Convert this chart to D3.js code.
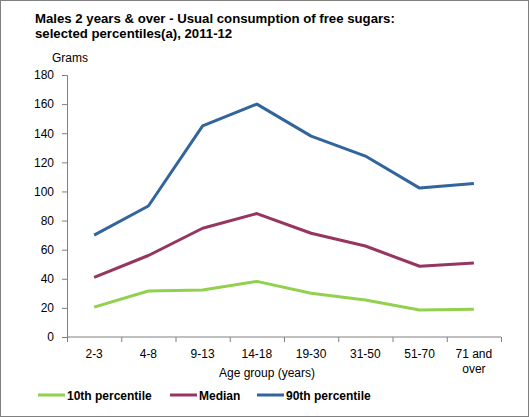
<!DOCTYPE html>
<html lang="en">
<head>
<meta charset="UTF-8">
<title>Free sugars percentiles</title>
<style>
  body { margin: 0; }
  svg { display: block; font-family: "Liberation Sans", Arial, sans-serif; }
</style>
</head>
<body>
<div id="chart"></div>
<script src="https://d3js.org/d3.v7.min.js"></script>
<script>
var ageGroups = ["2-3", "4-8", "9-13", "14-18", "19-30", "31-50", "51-70", "71 and over"];
var p10 = [20.5, 31.6, 32.3, 38.2, 30.0, 25.4, 18.6, 19.0];
var median = [41.0, 56.0, 74.7, 84.8, 71.3, 62.5, 48.6, 50.8];
var p90 = [70.0, 90.0, 145.0, 160.0, 138.0, 124.3, 102.3, 105.5];
var yTicks = [0, 20, 40, 60, 80, 100, 120, 140, 160, 180];

var series = [
    { name: "10th percentile", values: p10, color: "#92d050" },
    { name: "Median", values: median, color: "#953560" },
    { name: "90th percentile", values: p90, color: "#31659b" }
];

var W = 530, H = 417;
var margin = { top: 75, right: 29, bottom: 80, left: 67 };
var width = W - margin.left - margin.right;
var height = H - margin.top - margin.bottom;

var svg = d3.select("#chart").append("svg")
    .attr("width", W)
    .attr("height", H);

// outer frame
svg.append("rect")
    .attr("x", 0.5).attr("y", 0.5)
    .attr("width", W - 2).attr("height", H - 1)
    .style("fill", "#fff")
    .style("stroke", "#808080");

svg.append("text")
    .attr("x", 35).attr("y", 23)
    .style("font-size", "13.2px").style("font-weight", "bold")
    .text("Males 2 years & over - Usual consumption of free sugars:");
svg.append("text")
    .attr("x", 35).attr("y", 38)
    .style("font-size", "13.2px").style("font-weight", "bold")
    .text("selected percentiles(a), 2011-12");

svg.append("text")
    .attr("x", 52).attr("y", 62)
    .style("font-size", "12px")
    .text("Grams");

var g = svg.append("g")
    .attr("transform", "translate(" + margin.left + "," + margin.top + ")");

var x = d3.scaleBand().domain(ageGroups).range([0, width]);
var y = d3.scaleLinear().domain([0, 180]).range([height, 0]);

// y axis
var yAxis = g.append("g")
    .call(d3.axisLeft(y).tickValues(yTicks).tickSize(5).tickPadding(8));
yAxis.selectAll("text").style("font-size", "12px").style("fill", "#000")
    .style("font-family", "Liberation Sans, Arial, sans-serif");

// x axis with ticks on band boundaries
var xAxis = g.append("g").attr("transform", "translate(0," + height + ")");
xAxis.append("line")
    .attr("x1", 0).attr("x2", width)
    .style("stroke", "#808080");
xAxis.selectAll(".bt")
    .data(d3.range(ageGroups.length + 1))
    .enter().append("line")
    .attr("x1", function(i) { return i * x.bandwidth() + 0.5; })
    .attr("x2", function(i) { return i * x.bandwidth() + 0.5; })
    .attr("y1", 0).attr("y2", 5)
    .style("stroke", "#808080");
xAxis.selectAll(".lab")
    .data(ageGroups)
    .enter().append("text")
    .attr("text-anchor", "middle")
    .attr("x", function(d) { return x(d) + x.bandwidth() / 2; })
    .attr("y", 21)
    .style("font-size", "12px")
    .each(function(d) {
        var t = d3.select(this);
        if (d === "71 and over") {
            t.append("tspan").attr("x", t.attr("x")).text("71 and");
            t.append("tspan").attr("x", t.attr("x")).attr("dy", 15).text("over");
        } else {
            t.text(d);
        }
    });

yAxis.select(".domain").style("stroke", "#808080");
yAxis.selectAll(".tick line").style("stroke", "#808080");

svg.append("text")
    .attr("x", 267).attr("y", 377)
    .attr("text-anchor", "middle")
    .style("font-size", "12px")
    .text("Age group (years)");

var line = d3.line()
    .x(function(d, i) { return x(ageGroups[i]) + x.bandwidth() / 2; })
    .y(function(d) { return y(d); });

g.selectAll(".series")
    .data(series)
    .enter().append("path")
    .attr("d", function(s) { return line(s.values); })
    .style("fill", "none")
    .style("stroke", function(s) { return s.color; })
    .style("stroke-width", 3)
    .style("stroke-linejoin", "round");

// legend
var legendX = [38, 170, 257];
var legend = svg.selectAll(".legend")
    .data(series)
    .enter().append("g")
    .attr("transform", function(s, i) { return "translate(" + legendX[i] + ",395)"; });
legend.append("line")
    .attr("x1", 0).attr("x2", 27)
    .style("stroke", function(s) { return s.color; })
    .style("stroke-width", 3);
legend.append("text")
    .attr("x", 29).attr("y", 4.5)
    .style("font-size", "12px").style("font-weight", "bold")
    .text(function(s) { return s.name; });
</script>
</body>
</html>
